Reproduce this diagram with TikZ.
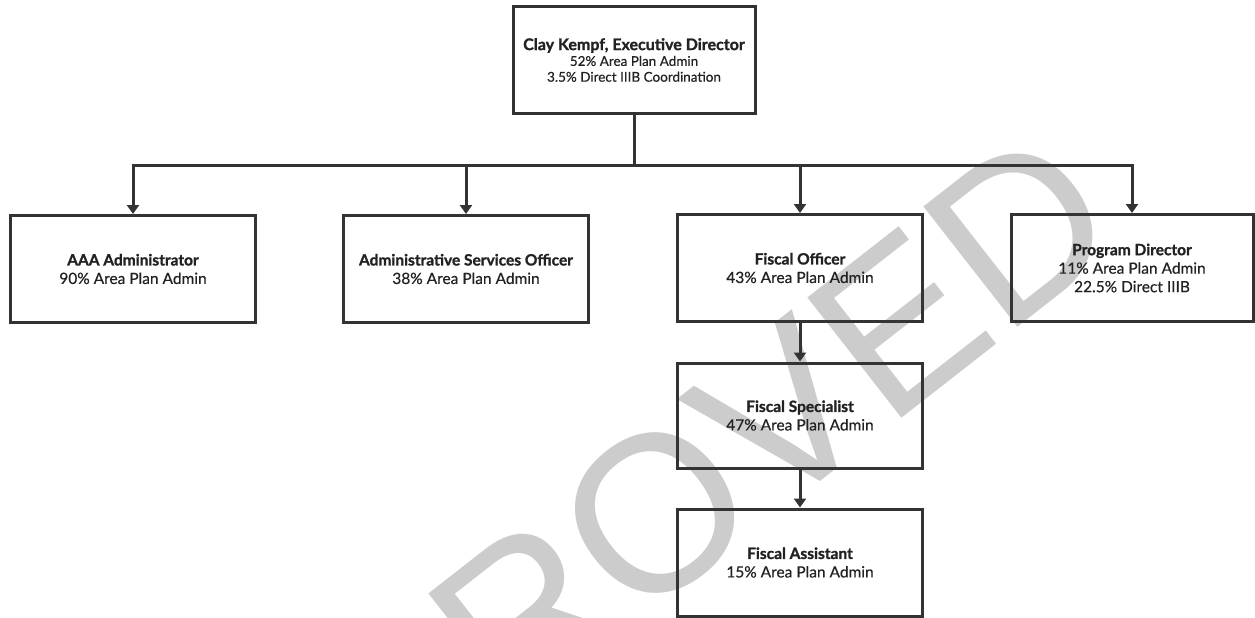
\documentclass[tikz,border=0pt]{standalone}
\usepackage{fontspec}
\setmainfont{Lato}[FakeBold=0.4]
\newfontfamily\blkfont{Lato}[BoldFeatures={FakeBold=1.2}]
\newfontfamily\wmfont{Liberation Sans}
\usetikzlibrary{arrows.meta}
\definecolor{linec}{HTML}{333333}
\definecolor{txtc}{HTML}{222222}
\definecolor{wmc}{HTML}{CCCCCC}
\newcommand{\ttl}[1]{{\blkfont\bfseries #1}}
\begin{document}
\begin{tikzpicture}[x=1pt,y=-1pt,
  box/.style={draw=linec, line width=3pt, align=center, inner sep=0pt,
    text=txtc, font=\fontsize{15.5}{18.5}\selectfont,
    minimum width=245pt, minimum height=107pt},
  topbox/.style={box, font=\fontsize{13.5}{15.8}\selectfont,
    minimum width=242pt, minimum height=106pt},
  link/.style={draw=linec, line width=3pt},
  conn/.style={link, -{Triangle[width=12pt,length=9pt]}}]
\fill[white] (0,0) rectangle (1255,618);
\useasboundingbox (0,0) rectangle (1255,618);
% watermark
\begin{scope}
  \clip (0,0) rectangle (1255,618);
  \node[rotate=38, text=wmc, inner sep=0pt,
    font=\wmfont\fontsize{222}{222}\selectfont] (wm) at (597,559) {APPROVED};
\end{scope}
% boxes
\node[topbox] (top) at (634,60) {{\blkfont\bfseries\fontsize{16}{18}\selectfont Clay Kempf, Executive Director}\\52\% Area Plan Admin\\3.5\% Direct IIIB Coordination};
\node[box] (aaa) at (133,269) {\ttl{AAA Administrator}\\90\% Area Plan Admin};
\node[box] (aso) at (466,269) {\ttl{Administrative Services Officer}\\38\% Area Plan Admin};
\node[box] (fo) at (800,268) {\ttl{Fiscal Officer}\\43\% Area Plan Admin};
\node[box, minimum width=242pt] (pd) at (1132,268) {\ttl{Program Director}\\11\% Area Plan Admin\\22.5\% Direct IIIB};
\node[box, minimum height=105pt] (fs) at (800,415.5) {\ttl{Fiscal Specialist}\\47\% Area Plan Admin};
\node[box] (fa) at (800,562.5) {\ttl{Fiscal Assistant}\\15\% Area Plan Admin};
% connectors
\coordinate (bus) at (634,165);
\draw[link] (top.south) -- (bus);
\draw[conn] (bus) -| (aaa.north);
\draw[conn] (bus) -| (aso.north);
\draw[conn] (bus) -| (fo.north);
\draw[conn] (bus) -| (pd.north);
\draw[conn] (fo.south) -- (fs.north);
\draw[conn] (fs.south) -- (fa.north);
\end{tikzpicture}
\end{document}
